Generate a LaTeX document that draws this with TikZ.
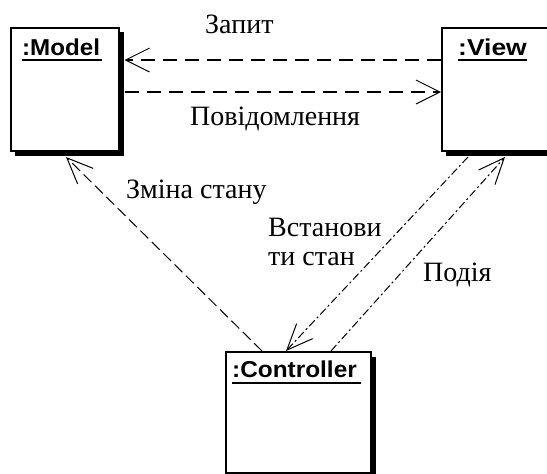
\documentclass[tikz,border=0pt]{standalone}
\usepackage{fontspec}
\setmainfont{Liberation Serif}
\setsansfont{Liberation Sans}
\usetikzlibrary{arrows.meta,calc}

\begin{document}
\begin{tikzpicture}[x=1pt,y=-1pt,
  objbox/.style={draw=black, line width=2pt, fill=white, rectangle, inner sep=0pt, anchor=north west},
  objname/.style={font=\sffamily\bfseries\fontsize{23}{26}\selectfont, inner sep=0pt, anchor=base west},
  msg/.style={font=\fontsize{28}{29}\selectfont, inner sep=0pt, anchor=base west, align=left},
  flowh/.style={line width=1.3pt, dash pattern=on 14pt off 8pt, -{Straight Barb[length=24pt,width=24pt,line width=1pt]}},
  flowd/.style={line width=1pt, dash pattern=on 11pt off 5pt, -{Straight Barb[length=26pt,width=22pt,line width=1pt]}},
  flowdd/.style={line width=1pt, dash pattern=on 8pt off 3pt on 2pt off 3pt, -{Straight Barb[length=26pt,width=22pt,line width=1pt]}},
]
\useasboundingbox (0,0) rectangle (547,474);
\fill[white] (0,0) rectangle (547,474);

% drop shadows behind the three object boxes
\fill (15,32) rectangle (124,156);
\fill (446,32) rectangle (570,156);
\fill (230,357) rectangle (376,480);

% object boxes
\node[objbox, minimum width=108pt, minimum height=123pt] (model) at (9.5,27) {};
\node[objbox, minimum width=130pt, minimum height=123pt] (view) at (441,27) {};
\node[objbox, minimum width=145pt, minimum height=121pt] (ctrl) at (225,351) {};

% underlined object names
\node[objname] (modelname) at (22,55) {\scalebox{1.05}[1]{:Model}};
\node[objname] (viewname) at (458,55) {\scalebox{1.15}[1]{:View}};
\node[objname] (ctrlname) at (232,377) {\scalebox{1.06}[1]{:Controller}};
\draw[line width=2pt] ([yshift=-5pt]modelname.base west) -- ([yshift=-5pt,xshift=2pt]modelname.base east);
\draw[line width=2pt] ([yshift=-5pt]viewname.base west) -- ([yshift=-5pt]viewname.base east);
\draw[line width=2pt] ([yshift=-6pt]ctrlname.base west) -- ([yshift=-6pt,xshift=4pt]ctrlname.base east);

% attachment points on the box edges
\coordinate (modelR1) at ($(model.north east)+(5,33)$);
\coordinate (modelR2) at ($(model.north east)+(5,65)$);
\coordinate (modelB)  at ($(model.south west)+(56.5,5)$);
\coordinate (viewL1)  at ($(view.north west)+(0,33)$);
\coordinate (viewL2)  at ($(view.north west)+(0,65)$);
\coordinate (viewB1)  at ($(view.south west)+(27,5)$);
\coordinate (viewB2)  at ($(view.south west)+(64,5)$);
\coordinate (ctrlT1)  at ($(ctrl.north west)+(37,0)$);
\coordinate (ctrlT2)  at ($(ctrl.north west)+(61,0)$);
\coordinate (ctrlT3)  at ($(ctrl.north west)+(106,0)$);

% messages
\draw[flowh] (viewL1) -- (modelR1);
\draw[flowh] (modelR2) -- (viewL2);
\draw[flowd] (ctrlT1) -- (modelB);
\draw[flowdd] (viewB1) -- (ctrlT2);
\draw[flowdd] (ctrlT3) -- (viewB2);

% message labels (the two-line label is anchored on its last line)
\node[msg] (lquery) at (205,33) {Запит};
\node[msg] (lnotify) at (190,125) {Повідомлення};
\node[msg] (lchange) at (126,198) {Зміна стану};
\node[msg] (lset) at (268,265) {Встанови\\ти стан};
\node[msg] (levent) at (423,281) {Подія};
\end{tikzpicture}
\end{document}
